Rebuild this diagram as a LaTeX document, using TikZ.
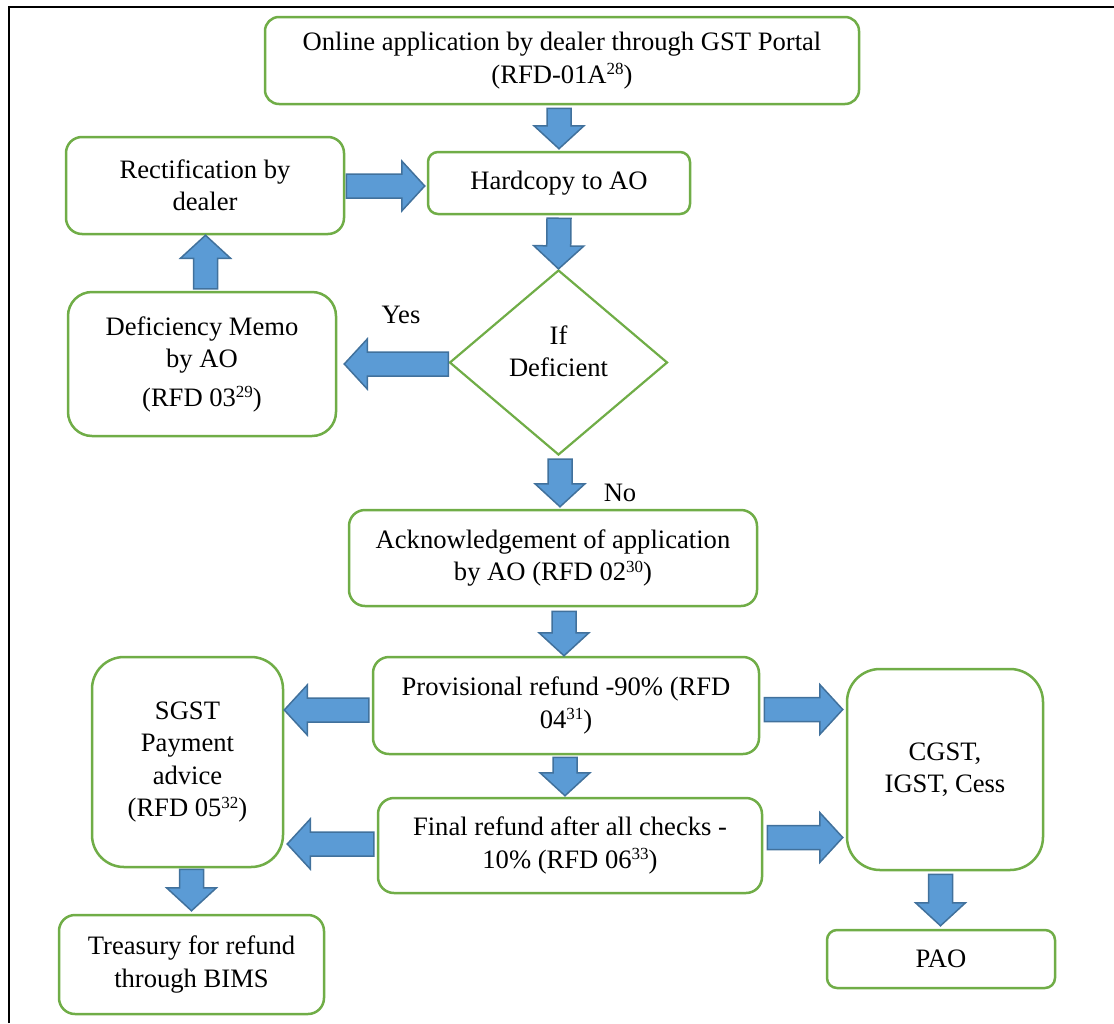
\documentclass[tikz,border=0pt]{standalone}
\usepackage{fontspec}
\setmainfont{Liberation Serif}
\usetikzlibrary{calc,shapes.geometric}
\definecolor{boxgreen}{HTML}{70AD47}
\definecolor{arrowfill}{HTML}{5B9BD5}
\definecolor{arrowline}{HTML}{41719C}
\newcommand{\supnum}[1]{\raisebox{8.5pt}{\fontsize{17}{17}\selectfont #1}}
\tikzset{
  box/.style={draw=boxgreen, line width=2.5, fill=white, align=center, inner sep=2,
    font=\fontsize{26.6}{32.5}\selectfont},
  lbl/.style={font=\fontsize{26.6}{32.5}\selectfont, inner sep=0},
  blockarrow/.style={fill=arrowfill, draw=arrowline, line width=1.5, line join=miter},
}
\newcommand{\barrow}[2]{%
  \coordinate (ba-s) at #1;
  \coordinate (ba-t) at #2;
  \coordinate (ba-h) at ($(ba-t)!23pt!(ba-s)$);
  \draw[blockarrow] ($(ba-s)!12pt!90:(ba-t)$) -- ($(ba-h)!12pt!90:(ba-t)$)
    -- ($(ba-h)!25pt!90:(ba-t)$) -- (ba-t) -- ($(ba-h)!25pt!-90:(ba-t)$)
    -- ($(ba-h)!12pt!-90:(ba-t)$) -- ($(ba-s)!12pt!-90:(ba-t)$) -- cycle;}
\begin{document}
\begin{tikzpicture}[x=1pt,y=-1pt]
\useasboundingbox (0,0) rectangle (1114,1023);
\draw[line width=2.5] (9,1023) -- (9,7) -- (1114,7);

\node[box, minimum width=594, minimum height=87, rounded corners=14] (on) at (562,60.5)
  {Online application by dealer through GST Portal\\(RFD-01A\supnum{28})};
\node[box, minimum width=262, minimum height=62, rounded corners=10] (hc) at (559,183) {Hardcopy to AO};
\node[box, minimum width=278, minimum height=97, rounded corners=16] (rect) at (205,185.5) {Rectification by\\dealer};
\node[box, minimum width=268, minimum height=144, rounded corners=24] (def) at (202,364)
  {Deficiency Memo\\by AO\\[6pt](RFD 03\supnum{29})};
\node[draw=boxgreen, line width=2.2, diamond, minimum width=218, minimum height=185, inner sep=0] (dia) at (558.5,362.5) {};
\node[lbl, align=center] (diatext) at ($(dia)+(0,-11)$) {If\\Deficient};
\node[box, minimum width=408, minimum height=96, rounded corners=16] (ack) at (553,558)
  {Acknowledgement of application\\by AO (RFD 02\supnum{30})};
\node[box, minimum width=386, minimum height=97, rounded corners=16] (prov) at (566,705.5)
  {Provisional refund -90\% (RFD\\04\supnum{31})};
\node[box, minimum width=384, minimum height=95, rounded corners=16] (fin) at (570,845.5)
  {Final refund after all checks -\\10\% (RFD 06\supnum{33})};
\node[box, minimum width=191, minimum height=210, rounded corners=32] (sgst) at (187.5,762)
  {SGST\\Payment\\advice\\(RFD 05\supnum{32})};
\node[box, minimum width=196, minimum height=201, rounded corners=33] (cgst) at (945,769.5)
  {CGST,\\IGST, Cess};
\node[box, minimum width=265, minimum height=99, rounded corners=16] (tre) at (191.5,964.5)
  {Treasury for refund\\through BIMS};
\node[box, minimum width=228, minimum height=58, rounded corners=10] (pao) at (941,959) {PAO};

\node[lbl] (yes) at (401,315) {Yes};
\node[lbl] (no) at (620,493) {No};

\barrow{($(hc.north |- on.south)+(0,3)$)}{($(hc.north)+(0,-2)$)}
\barrow{($(hc.south)+(0,3)$)}{(dia.north)}
\barrow{($(rect.east)+(1,0.5)$)}{($(hc.west |- rect.east)+(-2,0.5)$)}
\barrow{($(rect.south |- def.north)+(0.5,-2)$)}{($(rect.south)+(0.5,0)$)}
\barrow{($(dia.west)+(0,1.5)$)}{($(def.east |- dia.west)+(7,1.5)$)}
\barrow{($(dia.south)+(1.5,3)$)}{($(dia.south |- ack.north)+(1.5,-2)$)}
\barrow{($(prov.north |- ack.south)+(-2,4)$)}{($(prov.north)+(-2,0)$)}
\barrow{($(prov.south)+(-1,2)$)}{($(prov.south |- fin.north)+(-1,-1)$)}
\barrow{($(prov.west)+(-3,4.5)$)}{($(sgst.east |- prov.west)+(0,4.5)$)}
\barrow{($(fin.west)+(-3,-1.5)$)}{($(sgst.east |- fin.west)+(3,-1.5)$)}
\barrow{($(prov.east)+(4,4)$)}{($(cgst.west |- prov.east)+(-3,4)$)}
\barrow{($(fin.east)+(4,-8)$)}{($(cgst.west |- fin.east)+(-3,-8)$)}
\barrow{($(tre.north |- sgst.south)+(0,1)$)}{($(tre.north)+(0,-3)$)}
\barrow{($(pao.north |- cgst.south)+(-0.5,3)$)}{($(pao.north)+(-0.5,-3)$)}
\end{tikzpicture}
\end{document}
